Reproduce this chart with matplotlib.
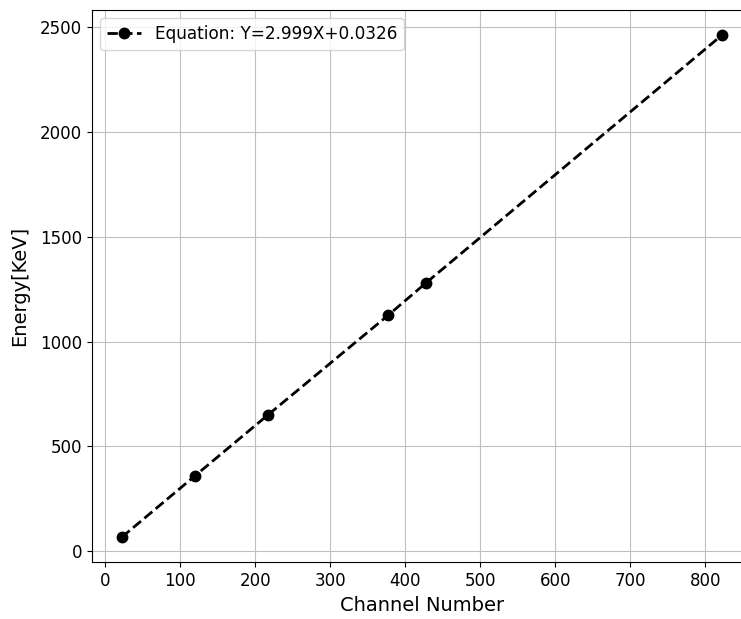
import matplotlib
matplotlib.use("Agg")
import matplotlib.pyplot as plt

channel = [22, 120, 217, 377, 427, 823]
energy = [66, 360, 650, 1125, 1278, 2465]
legend_label = "Equation: Y=2.999X+0.0326"

fig = plt.figure(figsize=(7.41, 6.19), dpi=100)
ax = fig.add_axes([0.1239, 0.0916, 0.8916, 0.8923])
ax.plot(channel, energy, 'k--o', lw=2, ms=7.5, label=legend_label)
ax.set_xlim(-18, 863)
ax.set_ylim(-54, 2583)
ax.set_xticks([0, 100, 200, 300, 400, 500, 600, 700, 800])
ax.set_yticks([0, 500, 1000, 1500, 2000, 2500])
ax.grid(True, color='#c0c0c0')
ax.tick_params(labelsize=12)
ax.set_xlabel("Channel Number", fontsize=14)
ax.set_ylabel("Energy[KeV]", fontsize=14, labelpad=8)
ax.legend(loc='upper left', fontsize=12.2)
fig.savefig("out.png", dpi=100)
